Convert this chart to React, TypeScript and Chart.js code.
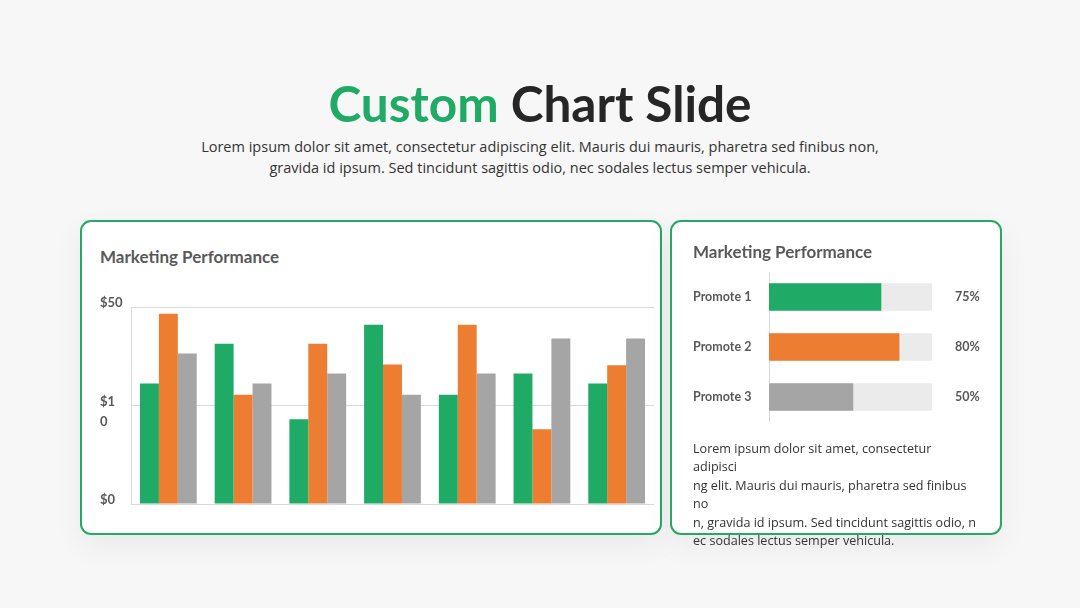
import React, { useEffect, useRef } from "react";
import { Chart, registerables } from "chart.js";

Chart.register(...registerables);

// ---- data ----
const categories = ["A", "B", "C", "D", "E", "F", "G"];
const seriesGreen = [30.6, 40.7, 21.5, 45.5, 27.7, 33.1, 30.6];
const seriesOrange = [48.3, 27.7, 40.7, 35.4, 45.5, 19.0, 35.2];
const seriesGray = [38.2, 30.6, 33.1, 27.7, 33.1, 42.0, 42.0];
const yTickValues = [0, 25, 50];
const yTickLabels: (string | string[])[] = ["$0", ["", "$1", "0"], "$50"];

const promoteLabels = ["Promote 1", "Promote 2", "Promote 3"];
const promoteValues = [68.7, 79.8, 51.5];
const promoteTrack = [100, 100, 100];
const promotePctLabels = ["75%", "80%", "50%"];

const GREEN = "#1fab66";
const ORANGE = "#ed7d31";
const GRAY = "#a5a5a5";
const TRACK = "#ebebeb";
const LABEL = "#595959";
const FONT = "Lato, 'Open Sans', sans-serif";

function BarChart() {
  const ref = useRef<HTMLCanvasElement>(null);
  useEffect(() => {
    const chart = new Chart(ref.current!, {
      type: "bar",
      data: {
        labels: categories,
        datasets: [
          { data: seriesGreen, backgroundColor: GREEN },
          { data: seriesOrange, backgroundColor: ORANGE },
          { data: seriesGray, backgroundColor: GRAY },
        ],
      },
      options: {
        animation: false,
        responsive: false,
        maintainAspectRatio: false,
        layout: { padding: { top: 27, right: 6, bottom: 16, left: 20 } },
        plugins: { legend: { display: false }, tooltip: { enabled: false } },
        datasets: { bar: { barPercentage: 1, categoryPercentage: 0.76 } },
        scales: {
          x: { display: false },
          y: {
            min: 0,
            max: 50,
            afterBuildTicks: (s: any) => {
              s.ticks = yTickValues.map((v) => ({ value: v }));
            },
            afterFit: (s: any) => {
              s.width = 31;
            },
            grid: { color: "#d9d9d9", drawTicks: false },
            border: { display: true, color: "#d9d9d9" },
            ticks: {
              crossAlign: "far",
              labelOffset: -4,
              color: LABEL,
              font: { family: FONT, size: 13, weight: "bold", lineHeight: 1.55 },
              callback: (v: any) => yTickLabels[yTickValues.indexOf(Number(v))],
            },
          },
        },
      },
    } as any);
    return () => chart.destroy();
  }, []);
  return (
    <canvas
      ref={ref}
      width={580}
      height={240}
      style={{ position: "absolute", left: 80, top: 280, width: 580, height: 240 }}
    />
  );
}

function PromoteChart() {
  const ref = useRef<HTMLCanvasElement>(null);
  useEffect(() => {
    const chart = new Chart(ref.current!, {
      type: "bar",
      data: {
        labels: promoteLabels,
        datasets: [
          {
            data: promoteValues,
            backgroundColor: [GREEN, ORANGE, GRAY],
            order: 0,
            yAxisID: "y",
          },
          { data: promoteTrack, backgroundColor: TRACK, order: 1, yAxisID: "y" },
        ],
      },
      options: {
        indexAxis: "y",
        animation: false,
        responsive: false,
        maintainAspectRatio: false,
        layout: { padding: { top: 10, right: 0, bottom: 0, left: 0 } },
        plugins: { legend: { display: false }, tooltip: { enabled: false } },
        datasets: { bar: { grouped: false, barThickness: 27 } },
        scales: {
          x: { display: false, min: 0, max: 100 },
          y: {
            position: "left",
            afterFit: (s: any) => {
              s.width = 76;
              s.paddingTop = 0;
              s.paddingBottom = 0;
            },
            grid: { display: false, drawTicks: false },
            border: { display: true, color: "#d9d9d9" },
            ticks: {
              crossAlign: "far",
              color: LABEL,
              font: { family: FONT, size: 12.5, weight: "bold" },
            },
          },
          y2: {
            type: "category",
            position: "right",
            offset: true,
            labels: promotePctLabels,
            afterFit: (s: any) => {
              s.width = 61;
              s.paddingTop = 0;
              s.paddingBottom = 0;
            },
            grid: { display: false, drawTicks: false, offset: true },
            border: { display: false },
            ticks: {
              padding: 23,
              color: LABEL,
              font: { family: FONT, size: 12.5, weight: "bold" },
            },
          },
        },
      },
    } as any);
    return () => chart.destroy();
  }, []);
  return (
    <canvas
      ref={ref}
      width={300}
      height={160}
      style={{ position: "absolute", left: 693, top: 262, width: 300, height: 160 }}
    />
  );
}

const cardStyle: React.CSSProperties = {
  position: "absolute",
  top: 220,
  height: 315,
  boxSizing: "border-box",
  border: "2.5px solid #27a866",
  borderRadius: 11,
  background: "#ffffff",
  boxShadow: "0 10px 30px rgba(0,0,0,0.06)",
};

const cardTitle: React.CSSProperties = {
  position: "absolute",
  fontFamily: FONT,
  fontWeight: 700,
  fontSize: 17,
  lineHeight: "20px",
  color: LABEL,
  whiteSpace: "nowrap",
};

const paraLines = [
  "Lorem ipsum dolor sit amet, consectetur",
  "adipisci",
  "ng elit. Mauris dui mauris, pharetra sed finibus",
  "no",
  "n, gravida id ipsum. Sed tincidunt sagittis odio, n",
  "ec sodales lectus semper vehicula.",
];

export default function App() {
  return (
    <div
      style={{
        position: "fixed",
        left: 0,
        top: 0,
        width: 1080,
        height: 608,
        background: "#f7f7f7",
        overflow: "hidden",
      }}
    >
      <div
        style={{
          position: "absolute",
          left: 0,
          width: 1080,
          top: 73,
          textAlign: "center",
          fontFamily: FONT,
          fontWeight: 700,
          fontSize: 49.5,
          lineHeight: "60px",
          color: "#262626",
        }}
      >
        <span style={{ color: "#1fab66" }}>Custom</span> Chart Slide
      </div>
      <div
        style={{
          position: "absolute",
          left: 0,
          width: 1080,
          top: 136,
          textAlign: "center",
          fontFamily: "'Open Sans', sans-serif",
          fontSize: 14.5,
          lineHeight: "21px",
          color: "#333333",
        }}
      >
        Lorem ipsum dolor sit amet, consectetur adipiscing elit. Mauris dui mauris, pharetra sed finibus non,
        <br />
        gravida id ipsum. Sed tincidunt sagittis odio, nec sodales lectus semper vehicula.
      </div>

      <div style={{ ...cardStyle, left: 80, width: 582 }} />
      <div style={{ ...cardTitle, left: 100, top: 247 }}>Marketing Performance</div>
      <BarChart />

      <div style={{ ...cardStyle, left: 670, width: 332 }} />
      <div style={{ ...cardTitle, left: 693, top: 242 }}>Marketing Performance</div>
      <PromoteChart />

      <div
        style={{
          position: "absolute",
          left: 693,
          top: 440,
          fontFamily: "'Open Sans', sans-serif",
          fontSize: 12.6,
          lineHeight: "18.4px",
          color: "#333333",
          whiteSpace: "pre",
        }}
      >
        {paraLines.join("\n")}
      </div>
    </div>
  );
}
